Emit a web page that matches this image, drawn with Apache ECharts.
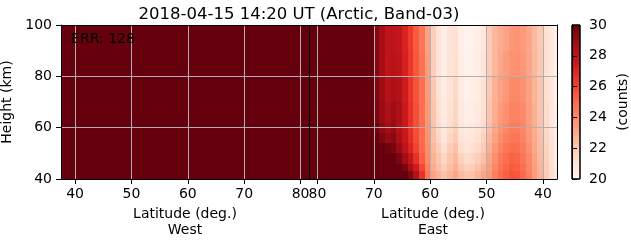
<!DOCTYPE html>
<html>
<head>
<meta charset="utf-8">
<script src="https://cdn.jsdelivr.net/npm/echarts@6/dist/echarts.min.js"></script>
<style>
html, body { margin: 0; padding: 0; background: #fff; }
#chart { width: 631px; height: 243px; }
</style>
</head>
<body>
<div id="chart"></div>
<script>
var titleText = '2018-04-15 14:20 UT (Arctic, Band-03)';
var errText = 'ERR: 128';

// height bands (km), bottom to top
var heightEdges = [40, 43, 46, 50, 54, 58, 62, 70, 80, 90, 100];

// west side: cell centres (deg) and counts (one per column, all saturated)
var westLat = [37.5, 38.5, 39.5, 40.5, 41.5, 42.5, 43.5, 44.5, 45.5, 46.5, 47.5,
  48.5, 49.5, 50.5, 51.5, 52.5, 53.5, 54.5, 55.5, 56.5, 57.5, 58.5, 59.5, 60.5,
  61.5, 62.5, 63.5, 64.5, 65.5, 66.5, 67.5, 68.5, 69.5, 70.5, 71.5, 72.5, 73.5,
  74.5, 75.5, 76.5, 77.5, 78.5, 79.5, 80.5];
var westCounts = [30, 30, 30, 30, 30, 30, 30, 30, 30, 30, 30, 30, 30, 30, 30,
  30, 30, 30, 30, 30, 30, 30, 30, 30, 30, 30, 30, 30, 30, 30, 30, 30, 30, 30,
  30, 30, 30, 30, 30, 30, 30, 30, 30, 30];

// east side: cell centres (deg) and counts per height band (bottom -> top)
var eastLat = [81.5, 80.5, 79.5, 78.5, 77.5, 76.5, 75.5, 74.5, 73.5, 72.5, 71.5,
  70.5, 69.5, 68.5, 67.5, 66.5, 65.5, 64.5, 63.5, 62.5, 61.5, 60.5, 59.5, 58.5,
  57.5, 56.5, 55.5, 54.5, 53.5, 52.5, 51.5, 50.5, 49.5, 48.5, 47.5, 46.5, 45.5,
  44.5, 43.5, 42.5, 41.5, 40.5, 39.5, 38.5, 37.5];
var eastCounts = [
  [30, 30, 30, 30, 30, 30, 30, 30, 30, 30],
  [30, 30, 30, 30, 30, 30, 30, 30, 30, 30],
  [30, 30, 30, 30, 30, 30, 30, 30, 30, 30],
  [30, 30, 30, 30, 30, 30, 30, 30, 30, 30],
  [30, 30, 30, 30, 30, 30, 30, 30, 30, 30],
  [30, 30, 30, 30, 30, 30, 30, 30, 30, 30],
  [30, 30, 30, 30, 30, 30, 30, 30, 30, 30],
  [30, 30, 30, 30, 30, 30, 30, 30, 30, 30],
  [30, 30, 30, 30, 30, 30, 30, 30, 30, 30],
  [30, 30, 30, 30, 30, 30, 30, 30, 30, 30],
  [30, 30, 30, 30, 30, 30, 30, 30, 30, 30],
  [30, 30, 30, 30, 30, 30, 30, 30, 30, 30],
  [30, 30, 30, 30, 30, 29.8, 29.6, 29.5, 29.4, 29.4],
  [30, 30, 30, 30, 29.5, 29.2, 29.0, 28.9, 28.7, 28.7],
  [30, 30, 30, 29.8, 29.1, 28.8, 28.5, 28.2, 27.9, 27.9],
  [30, 30, 30, 29.6, 29.3, 29.1, 28.9, 28.6, 28.2, 28.0],
  [30, 30, 29.6, 29.0, 28.6, 28.4, 28.6, 28.3, 27.9, 27.8],
  [30, 29.6, 28.8, 28.0, 27.6, 27.5, 27.5, 27.4, 27.2, 27.1],
  [29.5, 28.6, 27.8, 27.0, 26.7, 26.6, 26.6, 26.5, 26.4, 26.3],
  [28.4, 27.4, 26.6, 26.0, 25.8, 25.7, 25.7, 25.6, 25.5, 25.4],
  [26.6, 25.9, 25.3, 25.0, 24.9, 24.9, 24.8, 24.8, 24.7, 24.6],
  [24.6, 24.3, 24.0, 23.9, 23.8, 23.7, 23.6, 23.5, 23.4, 23.3],
  [23.3, 23.0, 22.8, 22.6, 22.4, 22.3, 22.2, 22.1, 21.9, 21.9],
  [22.8, 22.4, 22.2, 21.9, 21.6, 21.5, 21.3, 21.2, 21.1, 21.1],
  [22.3, 21.9, 21.6, 21.2, 20.9, 20.8, 20.6, 20.5, 20.4, 20.4],
  [22.7, 22.4, 22.2, 21.9, 21.6, 21.4, 21.2, 21.1, 21.0, 21.0],
  [23.1, 22.8, 22.6, 22.3, 22.0, 21.8, 21.6, 21.5, 21.3, 21.2],
  [22.5, 22.1, 21.7, 21.3, 21.0, 20.9, 20.7, 20.6, 20.5, 20.4],
  [22.2, 21.8, 21.4, 21.0, 20.8, 20.6, 20.4, 20.3, 20.2, 20.1],
  [22.3, 21.9, 21.6, 21.2, 20.9, 20.7, 20.5, 20.4, 20.3, 20.2],
  [22.7, 22.3, 21.9, 21.5, 21.2, 21.0, 20.7, 20.6, 20.5, 20.4],
  [23.2, 22.8, 22.4, 22.0, 21.7, 21.5, 21.3, 21.2, 21.0, 20.9],
  [23.6, 23.4, 23.2, 22.9, 22.6, 22.4, 22.2, 22.1, 22.0, 22.0],
  [24.3, 24.1, 23.9, 23.6, 23.3, 23.1, 22.9, 22.8, 22.6, 22.6],
  [24.9, 24.7, 24.5, 24.2, 23.9, 23.7, 23.5, 23.3, 23.1, 23.0],
  [25.3, 25.1, 24.9, 24.6, 24.3, 24.0, 23.8, 23.6, 23.4, 23.2],
  [25.6, 25.4, 25.2, 24.9, 24.6, 24.4, 24.2, 24.0, 23.7, 23.6],
  [25.5, 25.3, 25.1, 24.8, 24.6, 24.4, 24.2, 24.0, 23.8, 23.7],
  [25.0, 24.8, 24.6, 24.4, 24.2, 24.1, 24.0, 23.8, 23.6, 23.5],
  [24.3, 24.1, 24.0, 23.8, 23.6, 23.5, 23.4, 23.3, 23.2, 23.1],
  [23.5, 23.4, 23.3, 23.1, 23.0, 22.9, 22.8, 22.7, 22.6, 22.5],
  [22.8, 22.7, 22.6, 22.5, 22.4, 22.3, 22.2, 22.2, 22.1, 22.1],
  [22.0, 21.9, 21.8, 21.7, 21.6, 21.5, 21.4, 21.3, 21.2, 21.2],
  [21.3, 21.2, 21.2, 21.1, 21.0, 20.9, 20.8, 20.8, 20.7, 20.7],
  [20.7, 20.6, 20.6, 20.5, 20.5, 20.4, 20.4, 20.3, 20.3, 20.3]
];

var westTicks = [40, 50, 60, 70, 80];
var eastTicks = [80, 70, 60, 50, 40];
var heightGrid = [60, 80];
var redsColors = ['#fff5f0', '#fee0d2', '#fcbba1', '#fc9272', '#fb6a4a',
  '#ef3b2c', '#cb181d', '#a50f15', '#67000d'];

// x position: west latitude as is, east mirrored after a small gap
var eastOffset = 163;
var dividerX = 81.5;
function eastX(lat) { return eastOffset - lat; }

var cells = [];
for (var i = 0; i < westLat.length; i++) {
    cells.push([westLat[i], heightEdges[0], heightEdges[heightEdges.length - 1], westCounts[i]]);
}
for (var j = 0; j < eastLat.length; j++) {
    for (var k = 0; k < heightEdges.length - 1; k++) {
        cells.push([eastX(eastLat[j]), heightEdges[k], heightEdges[k + 1], eastCounts[j][k]]);
    }
}

var tickValues = westTicks.concat(eastTicks.map(eastX));
var gridLines = tickValues.map(function (v) { return { xAxis: v }; })
    .concat(heightGrid.map(function (v) { return { yAxis: v }; }));
gridLines.push({ xAxis: dividerX, lineStyle: { color: '#000', width: 1 } });

var font = 'DejaVu Sans';
var black = '#000';

var chart = echarts.init(document.getElementById('chart'));
var option = {
    animation: false,
    textStyle: { fontFamily: font, color: black },
    title: {
        text: titleText, left: 294, top: 1, textAlign: 'center',
        textStyle: { fontSize: 16.5, fontWeight: 'normal', color: black, fontFamily: font }
    },
    grid: [
        { left: 61, top: 25, width: 496, height: 154, outerBoundsMode: 'none', containLabel: false },
        { left: 572, top: 25, width: 8, height: 154, outerBoundsMode: 'none', containLabel: false }
    ],
    xAxis: [
        {
            type: 'value', gridIndex: 0, min: 37.5, max: 125.5, z: 10,
            axisLine: { lineStyle: { color: black, width: 1 } },
            axisTick: { customValues: tickValues, length: 5, lineStyle: { color: black } },
            axisLabel: {
                customValues: tickValues, margin: 8, fontSize: 14, color: black,
                formatter: function (v) { return String(v > dividerX ? eastOffset - v : v); }
            },
            splitLine: { show: false }
        },
        {
            type: 'value', gridIndex: 0, position: 'top', min: 37.5, max: 125.5, z: 10,
            axisLine: { lineStyle: { color: black, width: 1 } },
            axisTick: { show: false }, axisLabel: { show: false }, splitLine: { show: false }
        },
        { type: 'value', gridIndex: 1, min: 0, max: 1, show: false }
    ],
    yAxis: [
        {
            type: 'value', gridIndex: 0, min: 40, max: 100, interval: 20, z: 10,
            name: 'Height (km)', nameLocation: 'middle', nameGap: 42,
            nameTextStyle: { fontSize: 14, color: black },
            axisLine: { show: true, lineStyle: { color: black, width: 1 } },
            axisTick: { show: true, length: 5, lineStyle: { color: black } },
            axisLabel: { margin: 9, fontSize: 14, color: black },
            splitLine: { show: false }
        },
        {
            type: 'value', gridIndex: 0, position: 'right', min: 40, max: 100, z: 10,
            axisLine: { show: true, lineStyle: { color: black, width: 1 } },
            axisTick: { show: false }, axisLabel: { show: false }, splitLine: { show: false }
        },
        {
            type: 'value', gridIndex: 1, position: 'right', min: 20, max: 30, interval: 2, z: 10,
            name: '(counts)', nameLocation: 'middle', nameGap: 36, nameRotate: 90,
            nameTextStyle: { fontSize: 14, color: black },
            axisLine: { show: true, lineStyle: { color: black, width: 1 } },
            axisTick: { show: true, length: 5, lineStyle: { color: black } },
            axisLabel: { margin: 9, fontSize: 14, color: black },
            splitLine: { show: false }
        }
    ],
    visualMap: {
        type: 'continuous', show: false, seriesIndex: 0, dimension: 3,
        min: 20, max: 30, inRange: { color: redsColors }
    },
    series: [
        {
            type: 'custom', xAxisIndex: 0, yAxisIndex: 0, clip: true,
            data: cells, encode: { x: 0, y: 1 },
            renderItem: function (params, api) {
                var p0 = api.coord([api.value(0) - 0.5, api.value(2)]);
                var p1 = api.coord([api.value(0) + 0.5, api.value(1)]);
                var x0 = Math.round(p0[0]), x1 = Math.round(p1[0]);
                var y0 = Math.round(p0[1]), y1 = Math.round(p1[1]);
                return {
                    type: 'rect',
                    shape: { x: x0, y: y0, width: x1 - x0, height: y1 - y0 },
                    style: { fill: api.visual('color') }
                };
            },
            markLine: {
                silent: true, symbol: ['none', 'none'], label: { show: false },
                lineStyle: { color: '#b0b0b0', width: 1, type: 'solid' },
                data: gridLines
            }
        },
        {
            type: 'custom', xAxisIndex: 2, yAxisIndex: 2,
            data: [[0, 20, 30]],
            renderItem: function (params, api) {
                var p0 = api.coord([0, api.value(2)]);
                var p1 = api.coord([1, api.value(1)]);
                var stops = redsColors.map(function (col, n) {
                    return { offset: n / (redsColors.length - 1), color: col };
                });
                return {
                    type: 'rect',
                    shape: { x: p0[0], y: p0[1], width: p1[0] - p0[0], height: p1[1] - p0[1] },
                    style: {
                        fill: new echarts.graphic.LinearGradient(0, 1, 0, 0, stops),
                        stroke: black, lineWidth: 1
                    }
                };
            }
        }
    ]
};
chart.setOption(option);

// axis titles under each half, and the ERR note
var westMid = chart.convertToPixel({ gridIndex: 0 }, [(37.5 + dividerX) / 2, 40]);
var eastMid = chart.convertToPixel({ gridIndex: 0 }, [(dividerX + 125.5) / 2, 40]);
var errPos = chart.convertToPixel({ gridIndex: 0 }, [39.3, 94.5]);
function axisTitle(pos, side) {
    return {
        type: 'text', x: pos[0], y: pos[1] + 27, z: 20,
        style: {
            text: 'Latitude (deg.)\n' + side, align: 'center', verticalAlign: 'top',
            font: '14px "' + font + '"', lineHeight: 16, fill: black
        }
    };
}
chart.setOption({
    graphic: [
        axisTitle(westMid, 'West'),
        axisTitle(eastMid, 'East'),
        {
            type: 'text', x: errPos[0], y: errPos[1], z: 20,
            style: { text: errText, verticalAlign: 'middle', font: '14px "' + font + '"', fill: black }
        }
    ]
});
</script>
</body>
</html>
